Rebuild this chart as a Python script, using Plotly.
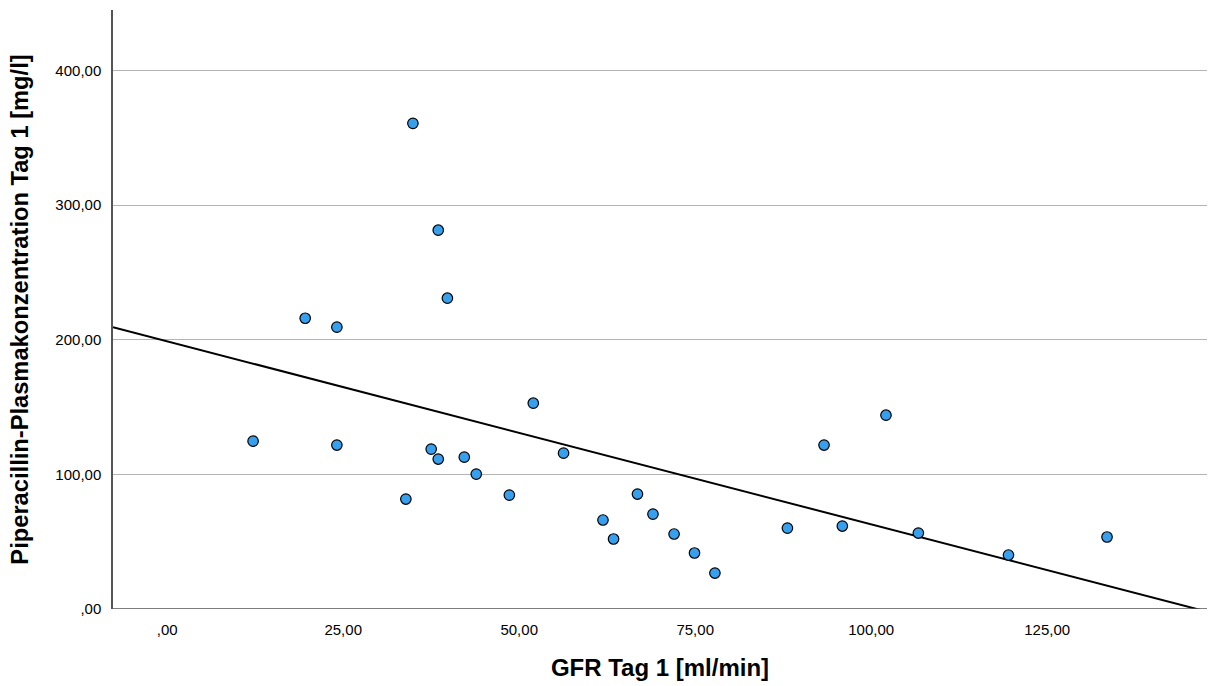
import numpy as np
import plotly.graph_objects as go

# GFR Tag 1 [ml/min]
gfr = [12.2, 19.6, 24.1, 24.1, 33.9, 34.9, 37.5, 38.5, 38.5, 39.8,
       42.2, 43.9, 48.6, 52.0, 56.3, 61.9, 63.4, 66.8, 69.0, 72.0,
       74.9, 77.8, 88.1, 93.3, 95.9, 102.1, 106.7, 119.5, 133.5]
# Piperacillin-Plasmakonzentration Tag 1 [mg/l]
pip = [124.7, 216.0, 209.4, 121.8, 81.7, 360.8, 118.8, 281.4, 111.4, 230.9,
       112.8, 100.2, 84.6, 152.9, 115.8, 66.1, 52.0, 85.4, 70.5, 55.7,
       41.6, 26.7, 60.1, 121.8, 61.6, 144.0, 56.4, 40.1, 53.5]

x_ticks = [0, 25, 50, 75, 100, 125]
x_ticktext = [",00", "25,00", "50,00", "75,00", "100,00", "125,00"]
y_ticks = [0, 100, 200, 300, 400]
y_ticktext = [",00", "100,00", "200,00", "300,00", "400,00"]

x_range = [-7.7, 147.7]
y_range = [0, 445]

# least-squares fit line across the axis range
slope, intercept = np.polyfit(gfr, pip, 1)
fit_x = np.array(x_range)
fit_y = intercept + slope * fit_x

fig = go.Figure()
fig.add_trace(go.Scatter(
    x=fit_x, y=fit_y, mode="lines",
    line=dict(color="black", width=2), hoverinfo="skip", showlegend=False,
))
fig.add_trace(go.Scatter(
    x=gfr, y=pip, mode="markers",
    marker=dict(size=10.5, color="#36a0ee", line=dict(color="black", width=1.2)),
    showlegend=False,
))

font_family = "Liberation Sans, Arial, sans-serif"
fig.update_layout(
    width=1208, height=686,
    margin=dict(l=113, r=1, t=10, b=77),
    paper_bgcolor="white", plot_bgcolor="white",
    font=dict(family=font_family, size=15, color="black"),
    xaxis=dict(
        range=x_range, tickvals=x_ticks, ticktext=x_ticktext,
        showgrid=False, zeroline=False, showline=False,
        ticks="", ticklabelstandoff=10,
        tickfont=dict(size=15),
        title=dict(text="GFR Tag 1 [ml/min]", standoff=22,
                   font=dict(size=24, weight="bold")),
    ),
    yaxis=dict(
        range=y_range, tickvals=y_ticks, ticktext=y_ticktext,
        showgrid=True, gridcolor="#b4b4b4", gridwidth=1,
        zeroline=False, showline=True, linecolor="#555555", linewidth=1.5,
        ticks="", ticklabelstandoff=7,
        tickfont=dict(size=15),
        title=dict(text="Piperacillin-Plasmakonzentration Tag 1 [mg/l]", standoff=20,
                   font=dict(size=23.7, weight="bold")),
    ),
)
# x axis baseline at y = 0
fig.add_shape(type="line", xref="paper", yref="y", x0=0, x1=1, y0=0, y1=0,
              line=dict(color="#555555", width=1.5))

fig.write_html(
    "out.html",
    config={"displayModeBar": False},
    post_script="document.body.style.margin='0';document.body.style.overflow='hidden';",
)
